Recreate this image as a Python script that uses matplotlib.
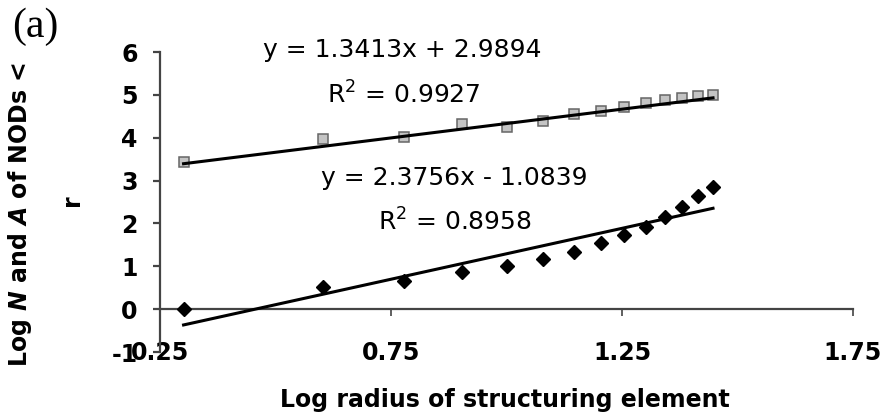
import numpy as np
import matplotlib.pyplot as plt

plt.rcParams['font.family'] = 'DejaVu Sans'
plt.rcParams['axes.unicode_minus'] = False
plt.rcParams['mathtext.fontset'] = 'custom'
plt.rcParams['mathtext.rm'] = 'DejaVu Sans'
plt.rcParams['mathtext.it'] = 'DejaVu Sans:italic:bold'

# log radius of structuring element (r = 2..28)
log_r = [0.301, 0.602, 0.778, 0.903, 1.000, 1.079, 1.146, 1.204, 1.255,
         1.301, 1.342, 1.380, 1.415, 1.447]
# squares: log A, diamonds: log N
log_A = [3.44, 3.96, 4.02, 4.33, 4.25, 4.38, 4.55, 4.62, 4.72, 4.80, 4.87,
         4.92, 4.97, 5.00]
log_N = [0.00, 0.52, 0.66, 0.87, 1.00, 1.17, 1.33, 1.55, 1.73, 1.92, 2.15,
         2.39, 2.65, 2.86]
# trendline coefficients as printed on the chart
fit_A = (1.3413, 2.9894, 0.9927)
fit_N = (2.3756, -1.0839, 0.8958)

x_ticks = [0.25, 0.75, 1.25, 1.75]
y_ticks = [-1, 0, 1, 2, 3, 4, 5, 6]

W, H = 891, 417
fig = plt.figure(figsize=(W / 100, H / 100), dpi=100)
ax = fig.add_axes([160 / W, 1 - 352 / H, (853 - 160) / W, 300 / H])

xs = np.array([log_r[0], log_r[-1]])
ax.plot(log_r, log_A, 's', ms=7, mfc='#c4c4c4', mec='#666666', mew=1.1, zorder=3)
ax.plot(log_r, log_N, 'D', ms=7.5, color='black', zorder=3)
ax.plot(xs, fit_A[0] * xs + fit_A[1], color='black', lw=2.2, zorder=4)
ax.plot(xs, fit_N[0] * xs + fit_N[1], color='black', lw=2.2, zorder=4)

ax.set_xlim(0.25, 1.75)
ax.set_ylim(-1, 6)
ax.set_xticks(x_ticks)
ax.set_xticklabels(['{:.2f}'.format(v) for v in x_ticks])
ax.set_yticks(y_ticks)

for s in ['top', 'right']:
    ax.spines[s].set_visible(False)
ax.spines['bottom'].set_position(('data', 0))
for s in ['left', 'bottom']:
    ax.spines[s].set_color('#444444')
    ax.spines[s].set_linewidth(1.6)

ax.tick_params(axis='x', direction='out', length=5, width=1.2, pad=18,
               colors='#444444', labelcolor='black', labelsize=17)
ax.tick_params(axis='y', direction='out', length=5, width=1.6, pad=11,
               colors='#444444', labelcolor='black', labelsize=17)
for lab in ax.get_xticklabels() + ax.get_yticklabels():
    lab.set_fontweight('bold')

# trendline labels
fig.text(402 / W, 1 - 50 / H, 'y = {}x + {}'.format(fit_A[0], fit_A[1]),
         ha='center', va='center', fontsize=18)
fig.text(404 / W, 1 - 95 / H, 'R$^2$ = {}'.format(fit_A[2]),
         ha='center', va='center', fontsize=18)
fig.text(454 / W, 1 - 178 / H, 'y = {}x - {}'.format(fit_N[0], -fit_N[1]),
         ha='center', va='center', fontsize=18)
fig.text(455 / W, 1 - 222 / H, 'R$^2$ = {}'.format(fit_N[2]),
         ha='center', va='center', fontsize=18)

# axis titles
fig.text(505 / W, 1 - 400 / H, 'Log radius of structuring element',
         ha='center', va='center', fontsize=17, fontweight='bold')
fig.text(20 / W, 1 - 215 / H, r'Log $N$ and $A$ of NODs <', rotation=90,
         ha='center', va='center', fontsize=17, fontweight='bold')
fig.text(72 / W, 1 - 200 / H, 'r', rotation=90,
         ha='center', va='center', fontsize=17, fontweight='bold')

fig.text(12 / W, 1 - 27 / H, '(a)', family='Liberation Serif', fontsize=30,
         ha='left', va='center')

fig.savefig('out.png', dpi=100)
